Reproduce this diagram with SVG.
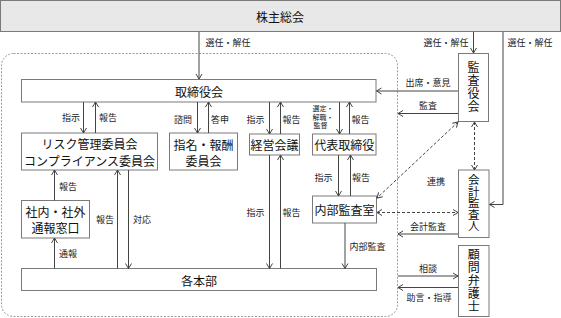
<svg xmlns="http://www.w3.org/2000/svg" width="561" height="318" viewBox="0 0 561 318">
<style>
.box{fill:#fff;stroke:#7a7a7a;stroke-width:1}
.t{font-family:"Noto Sans CJK JP","Noto Sans CJK SC",sans-serif;font-size:12px;fill:#111;text-anchor:middle;dominant-baseline:central}
.v{font-family:"Noto Sans CJK JP","Noto Sans CJK SC",sans-serif;font-size:12px;fill:#111;text-anchor:middle;writing-mode:vertical-rl}
.s{font-family:"Noto Sans CJK JP","Noto Sans CJK SC",sans-serif;font-size:9px;fill:#222;text-anchor:middle;dominant-baseline:central}
.xs{font-size:7px}
.ln{stroke:#444;fill:none;stroke-width:1}
.dot{stroke:#444;fill:none;stroke-width:1;stroke-dasharray:3 2}
.a{marker-end:url(#ar)}
.b{marker-start:url(#ar);marker-end:url(#ar)}
</style>
<defs>
<marker id="ar" markerUnits="userSpaceOnUse" markerWidth="8" markerHeight="8" refX="5" refY="3" orient="auto-start-reverse" viewBox="-1 -1 8 8">
<path d="M0,0 L5,3 L0,6" fill="none" stroke="#444" stroke-width="1"/>
</marker>
</defs>

<rect x="1.5" y="53.5" width="396" height="263" rx="12" fill="none" stroke="#9a9a9a" stroke-width="1" stroke-dasharray="2 1.5"/>

<g id="shareholders">
<rect x="0.5" y="0.5" width="560" height="31" fill="#e8e8e8" stroke="#7a7a7a"/>
<text class="t" x="280" y="16.5">株主総会</text>
</g>
<g id="board">
<rect class="box" x="21.5" y="79.5" width="354.5" height="22.5"/>
<text class="t" x="199" y="91">取締役会</text>
</g>
<g id="risk">
<rect class="box" x="21.5" y="133" width="136" height="37"/>
<text class="t" x="89.5" y="143.5">リスク管理委員会<tspan x="89.5" dy="16.5">コンプライアンス委員会</tspan></text>
</g>
<g id="nomination">
<rect class="box" x="169.5" y="133" width="68" height="37"/>
<text class="t" x="203.5" y="144">指名・報酬<tspan x="203.5" dy="15.5">委員会</tspan></text>
</g>
<g id="management">
<rect class="box" x="249.5" y="134" width="50" height="21"/>
<text class="t" x="274.5" y="144.5">経営会議</text>
</g>
<g id="ceo">
<rect class="box" x="312.5" y="134" width="63.5" height="21"/>
<text class="t" x="344.25" y="144.5">代表取締役</text>
</g>
<g id="hotline">
<rect class="box" x="21.5" y="200.5" width="68" height="37.5"/>
<text class="t" x="55.5" y="211.5">社内・社外<tspan x="55.5" dy="15.5">通報窓口</tspan></text>
</g>
<g id="internal-audit">
<rect class="box" x="312.5" y="196" width="64" height="27"/>
<text class="t" x="344.5" y="209.5">内部監査室</text>
</g>
<g id="divisions">
<rect class="box" x="21.5" y="268.5" width="355" height="22"/>
<text class="t" x="199" y="280">各本部</text>
</g>
<g id="auditors">
<rect class="box" x="458.5" y="53.5" width="30" height="68"/>
<text class="v" x="473.5" y="87.5" letter-spacing="1">監査役会</text>
</g>
<g id="accounting-auditor">
<rect class="box" x="458.5" y="170" width="30.5" height="67.5"/>
<text class="v" x="473.75" y="203" style="font-size:11.5px">会計監査人</text>
</g>
<g id="lawyer">
<rect class="box" x="458.5" y="245.5" width="30.5" height="71"/>
<text class="v" x="473.75" y="281" letter-spacing="1">顧問弁護士</text>
</g>

<g id="connectors">
<line class="ln a" x1="199" y1="32" x2="199" y2="79"/>
<text class="s" x="228" y="42">選任・解任</text>
<line class="ln a" x1="473.5" y1="32" x2="473.5" y2="53"/>
<text class="s" x="446" y="42">選任・解任</text>
<polyline class="ln a" points="503,32 503,204.5 489.5,204.5"/>
<text class="s" x="530" y="42">選任・解任</text>

<line class="ln a" x1="458" y1="91" x2="376.5" y2="91"/>
<text class="s" x="428" y="82">出席・意見</text>
<line class="ln a" x1="458" y1="113.5" x2="398" y2="113.5"/>
<text class="s" x="428" y="105">監査</text>

<line class="ln a" x1="83.5" y1="102" x2="83.5" y2="133"/>
<line class="ln a" x1="95.5" y1="133" x2="95.5" y2="102"/>
<text class="s" x="71" y="117.5">指示</text>
<text class="s" x="108" y="117.5">報告</text>

<line class="ln a" x1="197.5" y1="102" x2="197.5" y2="133"/>
<line class="ln a" x1="208.5" y1="133" x2="208.5" y2="102"/>
<text class="s" x="183" y="119.5">諮問</text>
<text class="s" x="220" y="119.5">答申</text>

<line class="ln a" x1="269.5" y1="102" x2="269.5" y2="134"/>
<line class="ln a" x1="280.5" y1="134" x2="280.5" y2="102"/>
<text class="s" x="255.5" y="119.5">指示</text>
<text class="s" x="291.5" y="119.5">報告</text>

<line class="ln a" x1="339.5" y1="102" x2="339.5" y2="134"/>
<line class="ln a" x1="349.5" y1="134" x2="349.5" y2="102"/>
<text class="s xs" x="323" y="108">選定・<tspan x="323" dy="8.5">解職・</tspan><tspan x="320.5" dy="8.5">監督</tspan></text>
<text class="s" x="360.5" y="119.5">報告</text>

<line class="ln a" x1="54.5" y1="200.5" x2="54.5" y2="170"/>
<text class="s" x="68" y="186">報告</text>
<line class="ln a" x1="54.5" y1="268.5" x2="54.5" y2="238"/>
<text class="s" x="68" y="253">通報</text>
<line class="ln a" x1="117.5" y1="268.5" x2="117.5" y2="170"/>
<line class="ln a" x1="128.5" y1="170" x2="128.5" y2="268.5"/>
<text class="s" x="105" y="219">報告</text>
<text class="s" x="142" y="219">対応</text>

<line class="ln a" x1="269.5" y1="155" x2="269.5" y2="268.5"/>
<line class="ln a" x1="280.5" y1="268.5" x2="280.5" y2="155"/>
<text class="s" x="255.5" y="212">指示</text>
<text class="s" x="291.5" y="212">報告</text>

<line class="ln a" x1="338.5" y1="155" x2="338.5" y2="196"/>
<line class="ln a" x1="350.5" y1="196" x2="350.5" y2="155"/>
<text class="s" x="323.5" y="177">指示</text>
<text class="s" x="361" y="177">報告</text>

<line class="ln a" x1="345" y1="223" x2="345" y2="268.5"/>
<text class="s" x="367.5" y="246">内部監査</text>

<line class="dot b" x1="474.5" y1="122" x2="474.5" y2="170"/>
<line class="dot b" x1="458" y1="122" x2="377" y2="198"/>
<line class="dot b" x1="377" y1="212.5" x2="458" y2="212.5"/>
<text class="s" x="436" y="181">連携</text>

<line class="ln a" x1="458" y1="234" x2="398" y2="234"/>
<text class="s" x="428" y="226">会計監査</text>
<line class="ln a" x1="398" y1="276" x2="458" y2="276"/>
<text class="s" x="428" y="268">相談</text>
<line class="ln a" x1="458" y1="287.5" x2="398" y2="287.5"/>
<text class="s" x="429" y="297">助言・指導</text>
</g>
</svg>
